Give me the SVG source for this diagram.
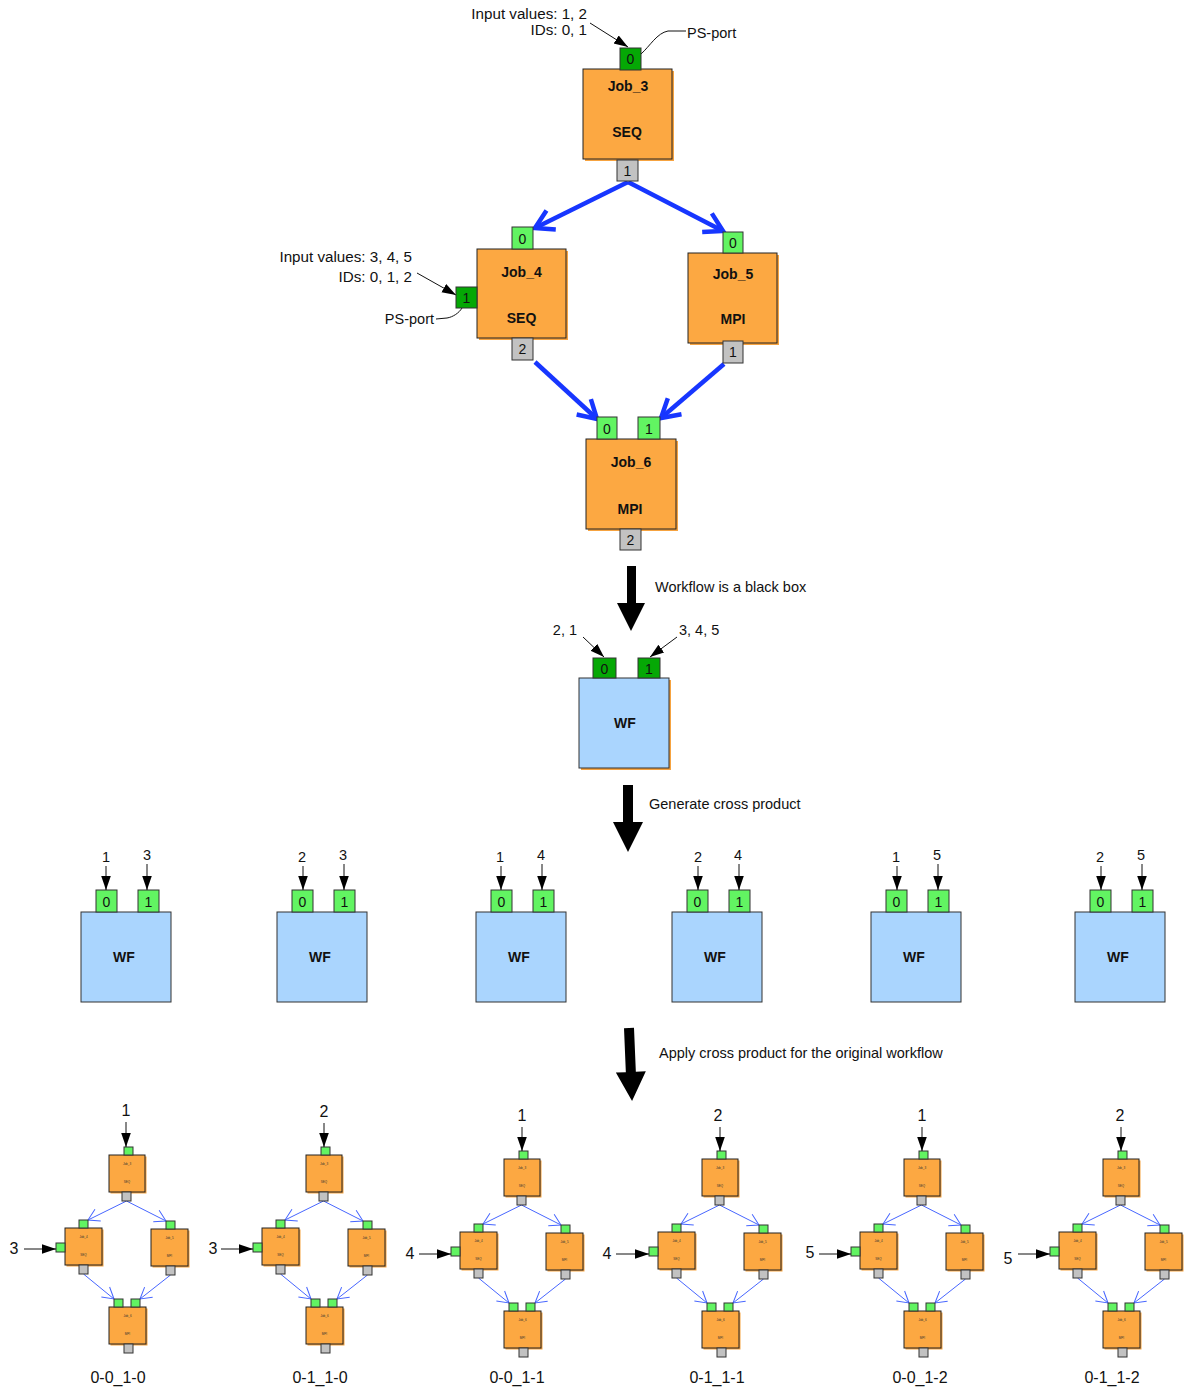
<svg xmlns="http://www.w3.org/2000/svg" xmlns:xlink="http://www.w3.org/1999/xlink" width="1185" height="1391" viewBox="0 0 1185 1391">
  <style>
    .job { fill: #FCA842; stroke: #222; stroke-width: 1; }
    .shadow { fill: #F6A340; }
    .wf { fill: #AAD5FE; stroke: #333; stroke-width: 1; }
    .pin { fill: #62F462; stroke: #333; stroke-width: 1; }
    .ps { fill: #05A805; stroke: #333; stroke-width: 1; }
    .pout { fill: #C2C2C2; stroke: #333; stroke-width: 1; }
    .t { font-family: "Liberation Sans", Arial, sans-serif; font-size: 14.5px; fill: #111; }
    .tn { font-family: "Liberation Sans", Arial, sans-serif; font-size: 15.2px; fill: #111; text-anchor: end; }
    .tb { font-family: "Liberation Sans", Arial, sans-serif; font-size: 14px; font-weight: bold; fill: #111; text-anchor: middle; }
    .tp { font-family: "Liberation Sans", Arial, sans-serif; font-size: 14px; fill: #111; text-anchor: middle; }
    .tl { font-family: "Liberation Sans", Arial, sans-serif; font-size: 16px; fill: #111; text-anchor: middle; }
    .tiny { font-family: "Liberation Sans", Arial, sans-serif; font-size: 3px; fill: #333; text-anchor: middle; }
    .flow { stroke: #1736FF; stroke-width: 4.5; fill: none; marker-end: url(#openBig); }
    .flow-s { stroke: #4766FF; stroke-width: 1; fill: none; marker-end: url(#openSmall); }
    .note { stroke: #111; stroke-width: 1; fill: none; }
    .note-a { stroke: #111; stroke-width: 1; fill: none; marker-end: url(#solid); }
    .big { fill: #000; }
  </style>
  <defs>
    <marker id="openBig" markerUnits="userSpaceOnUse" viewBox="-22 -13 26 26" refX="0" refY="0" markerWidth="26" markerHeight="26" orient="auto">
      <path d="M-18,-10.5 L0,0 L-18,10.5" fill="none" stroke="#1736FF" stroke-width="4.5"/>
    </marker>
    <marker id="openSmall" markerUnits="userSpaceOnUse" viewBox="-13 -8 15 16" refX="0" refY="0" markerWidth="15" markerHeight="16" orient="auto">
      <path d="M-11,-6.5 L0,0 L-11,6.5" fill="none" stroke="#4766FF" stroke-width="1"/>
    </marker>
    <marker id="solid" markerUnits="userSpaceOnUse" viewBox="-14 -6 15 12" refX="0" refY="0" markerWidth="15" markerHeight="12" orient="auto">
      <path d="M-14,-4.8 L0,0 L-14,4.8 Z" fill="#000"/>
    </marker>

    <!-- miniature of the four-job workflow, origin at the top-left of Job_3 -->
    <g id="mini-nodes">
      <rect class="shadow" x="1.5" y="1.5" width="36" height="37"/>
      <rect class="job" x="0" y="0" width="36" height="37"/>
      <rect class="pin" x="15" y="-8" width="9" height="8"/>
      <rect class="pout" x="13" y="37" width="9" height="9"/>
      <text class="tiny" x="18" y="10">Job_3</text>
      <text class="tiny" x="18" y="28">SEQ</text>

      <rect class="shadow" x="-42.5" y="74.5" width="37" height="37"/>
      <rect class="job" x="-44" y="73" width="37" height="37"/>
      <rect class="pin" x="-30" y="65" width="9" height="8"/>
      <rect class="pin" x="-53" y="88" width="9" height="9"/>
      <rect class="pout" x="-30" y="110" width="9" height="9"/>
      <text class="tiny" x="-25.5" y="83">Job_4</text>
      <text class="tiny" x="-25.5" y="101">SEQ</text>

      <rect class="shadow" x="43.5" y="75.5" width="37" height="37"/>
      <rect class="job" x="42" y="74" width="37" height="37"/>
      <rect class="pin" x="57" y="66" width="9" height="8"/>
      <rect class="pout" x="57" y="111" width="9" height="9"/>
      <text class="tiny" x="60.5" y="84">Job_5</text>
      <text class="tiny" x="60.5" y="102">MPI</text>

      <rect class="shadow" x="1.5" y="153.5" width="37" height="37"/>
      <rect class="job" x="0" y="152" width="37" height="37"/>
      <rect class="pin" x="5" y="144" width="9" height="8"/>
      <rect class="pin" x="22" y="144" width="9" height="8"/>
      <rect class="pout" x="15" y="189" width="9" height="9"/>
      <text class="tiny" x="18.5" y="162">Job_6</text>
      <text class="tiny" x="18.5" y="180">MPI</text>
    </g>
    <g id="mini-links">
      <path class="flow-s" d="M17.5,46 L-21,65"/>
      <path class="flow-s" d="M17.5,46 L57,66"/>
      <path class="flow-s" d="M-25.5,119 L5,144"/>
      <path class="flow-s" d="M61.5,120 L31,144"/>
    </g>

    <!-- black box workflow with two input ports -->
    <g id="wf-box">
      <rect class="wf" x="0" y="0" width="90" height="90"/>
      <rect class="pin" x="15" y="-22" width="21" height="22"/>
      <rect class="pin" x="57" y="-22" width="21" height="22"/>
      <text class="tp" x="25.5" y="-5">0</text>
      <text class="tp" x="67.5" y="-5">1</text>
      <text class="tb" x="43" y="50" font-size="13">WF</text>
    </g>
  </defs>

  <rect width="1185" height="1391" fill="#fff"/>

  <!-- ===== connectors ===== -->
  <g id="connectors">
    <path class="flow" d="M628,182 L535,228"/>
    <path class="flow" d="M628,182 L723,231"/>
    <path class="flow" d="M535,362 L597,419"/>
    <path class="flow" d="M724,364 L661,418"/>

    <use xlink:href="#mini-links" transform="translate(109,1155)"/>
    <use xlink:href="#mini-links" transform="translate(306,1155)"/>
    <use xlink:href="#mini-links" transform="translate(504,1159)"/>
    <use xlink:href="#mini-links" transform="translate(702,1159)"/>
    <use xlink:href="#mini-links" transform="translate(904,1159)"/>
    <use xlink:href="#mini-links" transform="translate(1103,1159)"/>
  </g>

  <!-- ===== annotations ===== -->
  <g id="annotations">
    <text class="tn" x="587" y="19">Input values: 1, 2</text>
    <text class="tn" x="587" y="35">IDs: 0, 1</text>
    <path class="note-a" d="M590,23 L628,47"/>
    <text class="t" x="687" y="38">PS-port</text>
    <path class="note" d="M641,54 C650,46 657,33 668,31 L686,31"/>

    <text class="tn" x="412" y="262">Input values: 3, 4, 5</text>
    <text class="tn" x="412" y="282">IDs: 0, 1, 2</text>
    <path class="note-a" d="M417,273 L456,295"/>
    <text class="t" x="434" y="324" text-anchor="end">PS-port</text>
    <path class="note" d="M436,319 L447,318 C453,317 459,313 462,308"/>

    <!-- transition arrows -->
    <path class="big" d="M627,566 L636,566 L636,603 L645,603 L631,631 L617,603 L627,603 Z"/>
    <text class="t" x="655" y="592">Workflow is a black box</text>
    <path class="big" d="M623,785 L633,785 L633,822 L643,822 L628,852 L613,822 L623,822 Z"/>
    <text class="t" x="649" y="809">Generate cross product</text>
    <path class="big" transform="rotate(-2.4 629 1028)" d="M624,1028 L634,1028 L634,1072 L644,1072 L629,1101 L614,1072 L624,1072 Z"/>
    <text class="t" x="659" y="1058">Apply cross product for the original workflow</text>
  </g>

  <!-- ===== detailed workflow ===== -->
  <g id="job3">
    <rect class="shadow" x="585" y="71" width="89" height="90"/>
    <rect class="job" x="583" y="69" width="89" height="90"/>
    <rect class="ps" x="620" y="48" width="21" height="22"/>
    <text class="tp" x="630.5" y="63.5">0</text>
    <rect class="pout" x="617" y="160" width="21" height="21"/>
    <text class="tp" x="627.5" y="175.5">1</text>
    <text class="tb" x="628" y="91">Job_3</text>
    <text class="tb" x="627" y="137">SEQ</text>
  </g>

  <g id="job4">
    <rect class="shadow" x="479" y="251" width="89" height="89"/>
    <rect class="job" x="477" y="249" width="89" height="89"/>
    <rect class="pin" x="512" y="227" width="21" height="22"/>
    <text class="tp" x="522.5" y="243.5">0</text>
    <rect class="ps" x="456" y="287" width="21" height="21"/>
    <text class="tp" x="466.5" y="302.5">1</text>
    <rect class="pout" x="512" y="338" width="21" height="22"/>
    <text class="tp" x="522.5" y="354">2</text>
    <text class="tb" x="521.5" y="277">Job_4</text>
    <text class="tb" x="521.5" y="323">SEQ</text>
  </g>

  <g id="job5">
    <rect class="shadow" x="690" y="255" width="89" height="90"/>
    <rect class="job" x="688" y="253" width="89" height="90"/>
    <rect class="pin" x="723" y="232" width="20" height="21"/>
    <text class="tp" x="733" y="247.5">0</text>
    <rect class="pout" x="723" y="341" width="20" height="22"/>
    <text class="tp" x="733" y="357">1</text>
    <text class="tb" x="733" y="279">Job_5</text>
    <text class="tb" x="733" y="324">MPI</text>
  </g>

  <g id="job6">
    <rect class="shadow" x="588" y="441" width="90" height="90"/>
    <rect class="job" x="586" y="439" width="90" height="90"/>
    <rect class="pin" x="597" y="417" width="20" height="22"/>
    <text class="tp" x="607" y="433.5">0</text>
    <rect class="pin" x="638" y="417" width="22" height="22"/>
    <text class="tp" x="649" y="433.5">1</text>
    <rect class="pout" x="620" y="529" width="21" height="21"/>
    <text class="tp" x="630.5" y="544.5">2</text>
    <text class="tb" x="631" y="467">Job_6</text>
    <text class="tb" x="630" y="514">MPI</text>
  </g>

  <!-- ===== black box ===== -->
  <g id="wf-blackbox">
    <rect class="shadow" x="581" y="680" width="90" height="90" fill="#A6D2FC"/>
    <rect class="wf" x="579" y="678" width="90" height="90"/>
    <rect class="ps" x="593" y="658" width="23" height="20"/>
    <text class="tp" x="604.5" y="673.5">0</text>
    <rect class="ps" x="638" y="658" width="22" height="20"/>
    <text class="tp" x="649" y="673.5">1</text>
    <text class="tb" x="625" y="728" font-size="13">WF</text>
    <text class="t" x="577" y="635" text-anchor="end">2, 1</text>
    <text class="t" x="679" y="635">3, 4, 5</text>
    <path class="note-a" d="M583,637 L604,657"/>
    <path class="note-a" d="M677,637 L650,657"/>
  </g>

  <!-- ===== cross product instances ===== -->
  <g id="wf-1-3">
    <use xlink:href="#wf-box" transform="translate(81,912)"/>
    <text class="t" x="106" y="862" text-anchor="middle">1</text>
    <text class="t" x="147" y="860" text-anchor="middle">3</text>
    <path class="note-a" d="M106,866 L106,890"/>
    <path class="note-a" d="M147,864 L147,890"/>
  </g>
  <g id="wf-2-3">
    <use xlink:href="#wf-box" transform="translate(277,912)"/>
    <text class="t" x="302" y="862" text-anchor="middle">2</text>
    <text class="t" x="343" y="860" text-anchor="middle">3</text>
    <path class="note-a" d="M303,866 L303,890"/>
    <path class="note-a" d="M344,864 L344,890"/>
  </g>
  <g id="wf-1-4">
    <use xlink:href="#wf-box" transform="translate(476,912)"/>
    <text class="t" x="500" y="862" text-anchor="middle">1</text>
    <text class="t" x="541" y="860" text-anchor="middle">4</text>
    <path class="note-a" d="M501,866 L501,890"/>
    <path class="note-a" d="M542,864 L542,890"/>
  </g>
  <g id="wf-2-4">
    <use xlink:href="#wf-box" transform="translate(672,912)"/>
    <text class="t" x="698" y="862" text-anchor="middle">2</text>
    <text class="t" x="738" y="860" text-anchor="middle">4</text>
    <path class="note-a" d="M698,866 L698,890"/>
    <path class="note-a" d="M739,864 L739,890"/>
  </g>
  <g id="wf-1-5">
    <use xlink:href="#wf-box" transform="translate(871,912)"/>
    <text class="t" x="896" y="862" text-anchor="middle">1</text>
    <text class="t" x="937" y="860" text-anchor="middle">5</text>
    <path class="note-a" d="M897,866 L897,890"/>
    <path class="note-a" d="M938,864 L938,890"/>
  </g>
  <g id="wf-2-5">
    <use xlink:href="#wf-box" transform="translate(1075,912)"/>
    <text class="t" x="1100" y="862" text-anchor="middle">2</text>
    <text class="t" x="1141" y="860" text-anchor="middle">5</text>
    <path class="note-a" d="M1101,866 L1101,890"/>
    <path class="note-a" d="M1142,864 L1142,890"/>
  </g>

  <!-- ===== expanded instances ===== -->
  <g id="run-0-0_1-0">
    <use xlink:href="#mini-nodes" transform="translate(109,1155)"/>
    <text class="tl" x="126" y="1116">1</text>
    <path class="note-a" d="M126,1122 L126,1147"/>
    <text class="tl" x="14" y="1254">3</text>
    <path class="note-a" d="M24,1249 L56,1249"/>
    <text class="tl" x="118" y="1383">0-0_1-0</text>
  </g>
  <g id="run-0-1_1-0">
    <use xlink:href="#mini-nodes" transform="translate(306,1155)"/>
    <text class="tl" x="324" y="1117">2</text>
    <path class="note-a" d="M324,1123 L324,1147"/>
    <text class="tl" x="213" y="1254">3</text>
    <path class="note-a" d="M221,1249 L253,1249"/>
    <text class="tl" x="320" y="1383">0-1_1-0</text>
  </g>
  <g id="run-0-0_1-1">
    <use xlink:href="#mini-nodes" transform="translate(504,1159)"/>
    <text class="tl" x="522" y="1121">1</text>
    <path class="note-a" d="M522,1127 L522,1151"/>
    <text class="tl" x="410" y="1259">4</text>
    <path class="note-a" d="M419,1254 L451,1254"/>
    <text class="tl" x="517" y="1383">0-0_1-1</text>
  </g>
  <g id="run-0-1_1-1">
    <use xlink:href="#mini-nodes" transform="translate(702,1159)"/>
    <text class="tl" x="718" y="1121">2</text>
    <path class="note-a" d="M720,1127 L720,1151"/>
    <text class="tl" x="607" y="1259">4</text>
    <path class="note-a" d="M616,1254 L649,1254"/>
    <text class="tl" x="717" y="1383">0-1_1-1</text>
  </g>
  <g id="run-0-0_1-2">
    <use xlink:href="#mini-nodes" transform="translate(904,1159)"/>
    <text class="tl" x="922" y="1121">1</text>
    <path class="note-a" d="M922,1127 L922,1151"/>
    <text class="tl" x="810" y="1258">5</text>
    <path class="note-a" d="M819,1254 L851,1254"/>
    <text class="tl" x="920" y="1383">0-0_1-2</text>
  </g>
  <g id="run-0-1_1-2">
    <use xlink:href="#mini-nodes" transform="translate(1103,1159)"/>
    <text class="tl" x="1120" y="1121">2</text>
    <path class="note-a" d="M1121,1127 L1121,1151"/>
    <text class="tl" x="1008" y="1264">5</text>
    <path class="note-a" d="M1018,1254 L1050,1254"/>
    <text class="tl" x="1112" y="1383">0-1_1-2</text>
  </g>
</svg>
